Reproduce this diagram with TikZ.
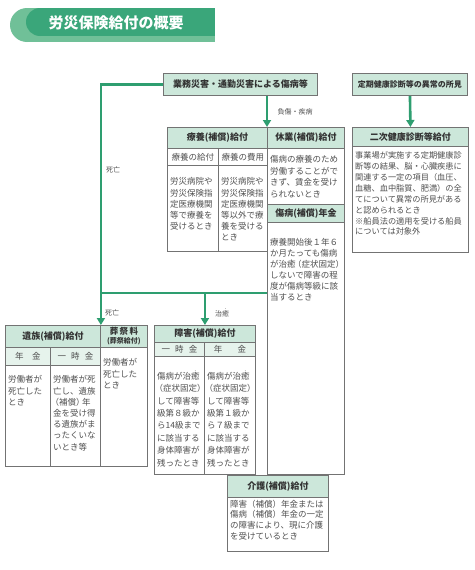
\documentclass[tikz,border=0pt]{standalone}
\usepackage{fontspec}
\setmainfont{Noto Sans CJK JP}
\usetikzlibrary{arrows.meta,positioning}
\definecolor{rgreen}{RGB}{46,158,112}
\definecolor{tgreen}{RGB}{58,166,122}
\definecolor{tlight}{RGB}{112,192,152}
\definecolor{mint}{RGB}{204,231,218}
\definecolor{pale}{RGB}{230,243,236}
\definecolor{frame}{RGB}{115,115,115}
\definecolor{ink}{RGB}{80,80,80}
% small dot above a character
\newcommand{\bouten}[1]{\leavevmode\rlap{\makebox[1em]{\raisebox{0.8em}{\fontsize{4}{4}\selectfont ・}}}#1}
\newcommand{\lp}{\kern-.3em（}
\newcommand{\rp}{）\kern-.3em}

\begin{document}
\begin{tikzpicture}[x=1pt,y=-1pt,
  flow/.style={draw=rgreen,line width=2.6pt,-{Triangle[width=8pt,length=7pt]}},
  hd/.style={draw=frame,line width=0.9pt,fill=mint,anchor=north west,inner sep=0pt,
    font=\fontsize{9}{10}\selectfont\bfseries,text=black!80},
  subhd/.style={hd,fill=pale,font=\fontsize{8.5}{10}\selectfont,text=ink},
  bx/.style={draw=frame,line width=0.9pt,fill=white,anchor=north west,inner sep=0pt},
  txt/.style={align=left,inner xsep=3pt,inner ysep=0pt,font=\fontsize{8.5}{11.2}\selectfont,text=ink},
  lbl/.style={font=\fontsize{7}{8}\selectfont,text=ink,inner sep=1pt}]
\fill[white] (0,0) rectangle (474,570);
\useasboundingbox (0,0) rectangle (474,570);

% Title banner
\fill[tlight] (27,8) rectangle (215,42);
\fill[tlight] (27,25) circle[radius=17pt];
\fill[tgreen] (40,8) rectangle (215,36);
\fill[tgreen] (40,22) circle[radius=14pt];
\node[font=\fontsize{15}{16}\selectfont\bfseries,text=white] (title) at (116,23) {労災保険給付の概要};

% Causes
\node[hd,minimum width=154pt,minimum height=22pt] (cause) at (163,73) {業務災害・通勤災害による傷病等};
\node[hd,minimum width=115pt,minimum height=22pt,font=\fontsize{8}{9}\selectfont\bfseries] (checkup) at (352,73) {定期健康診断等の異常の所見};

% Ryoyo
\node[hd,minimum width=100pt,minimum height=21pt] (ryoH) at (167,127) {療養(補償)給付};
\node[subhd,fill=white,minimum width=51pt,minimum height=17pt] (ryoS1) at (167,148) {療養の給付};
\node[subhd,fill=white,minimum width=49pt,minimum height=17pt] (ryoS2) at (218,148) {療養の費用};
\node[bx,minimum width=51pt,minimum height=86pt] (ryoC1) at (167,165) {};
\node[bx,minimum width=49pt,minimum height=86pt] (ryoC2) at (218,165) {};
\node[txt,below right=12.5pt and 0pt of ryoC1.north west] (ryoT1) {労災病院や\\労災保険指\\定医療機関\\等で療養を\\受けるとき};
\node[txt,below right=12.5pt and 0pt of ryoC2.north west] (ryoT2) {労災病院や\\労災保険指\\定医療機関\\等以外で療\\養を受ける\\とき};

% Kyugyo and Shobyo
\node[hd,minimum width=77pt,minimum height=21pt] (kyuH) at (267,127) {休業(補償)給付};
\node[bx,minimum width=77pt,minimum height=56pt] (kyuC) at (267,148) {};
\node[txt,below right=7.5pt and 0pt of kyuC.north west,font=\fontsize{8.5}{11.5}\selectfont] (kyuT) {傷病の療養のため\\労働することがで\\きず、賃金を受け\\られないとき};
\node[hd,minimum width=77pt,minimum height=18pt] (shoH) at (267,204) {傷病(補償)年金};
\node[bx,minimum width=77pt,minimum height=252pt] (shoC) at (267,222) {};
\node[txt,below right=16.5pt and 0pt of shoC.north west,font=\fontsize{8.5}{11}\selectfont] (shoT) {療養開始後１年６\\か月たっても傷病\\が治\bouten{癒}\lp 症状固定\rp\\しないで障害の程\\度が傷病等級に該\\当するとき};

% Niji kenko shindan
\node[hd,minimum width=116pt,minimum height=19pt] (nijiH) at (352,127) {二次健康診断等給付};
\node[bx,minimum width=116pt,minimum height=106pt] (nijiC) at (352,146) {};
\node[txt,below right=5.5pt and 0pt of nijiC.north west,font=\fontsize{8.2}{10.9}\selectfont] (nijiT) {事業場が実施する定期健康診\\断等の結果、脳・心臓疾患に\\関連する一定の項目（血圧、\\血糖、血中脂質、肥満）の全\\てについて異常の所見がある\\と認められるとき\\※船員法の適用を受ける船員\\については対象外};

% Izoku and Sosai
\node[hd,minimum width=95pt,minimum height=22pt] (izokuH) at (5,325) {遺族(補償)給付};
\node[hd,minimum width=47pt,minimum height=22pt,align=center,font=\fontsize{8.5}{9}\selectfont\bfseries] (sosaiH) at (100,325) {葬\,祭\,料\\{\fontsize{7}{8}\selectfont (葬祭給付)}};
\node[subhd,minimum width=45pt,minimum height=18pt] (izokuS1) at (5,347) {年\hspace{1em}金};
\node[subhd,minimum width=50pt,minimum height=18pt] (izokuS2) at (50,347) {一\hspace{.6em}時\hspace{.6em}金};
\node[bx,minimum width=45pt,minimum height=101pt] (izokuC1) at (5,365) {};
\node[bx,minimum width=50pt,minimum height=101pt] (izokuC2) at (50,365) {};
\node[bx,minimum width=47pt,minimum height=119pt] (sosaiC) at (100,347) {};
\node[txt,below right=10.5pt and 0pt of izokuC1.north west] (izokuT1) {労働者が\\死亡した\\とき};
\node[txt,below right=10.5pt and 0pt of izokuC2.north west] (izokuT2) {労働者が死\\亡し、遺族\\\lp 補償\rp 年\\金を受け得\\る遺族がま\\ったくいな\\いとき等};
\node[txt,below right=11.5pt and 0pt of sosaiC.north west] (sosaiT) {労働者が\\死亡した\\とき};

% Shogai
\node[hd,minimum width=101pt,minimum height=17pt] (shogaiH) at (154,325) {障害(補償)給付};
\node[subhd,minimum width=50pt,minimum height=14pt] (shogaiS1) at (154,342) {一\hspace{.6em}時\hspace{.6em}金};
\node[subhd,minimum width=51pt,minimum height=14pt] (shogaiS2) at (204,342) {年\hspace{1.8em}金};
\node[bx,minimum width=50pt,minimum height=118pt] (shogaiC1) at (154,356) {};
\node[bx,minimum width=51pt,minimum height=118pt] (shogaiC2) at (204,356) {};
\node[txt,below right=14.4pt and 0pt of shogaiC1.north west,font=\fontsize{8.5}{12.4}\selectfont] (shogaiT1) {傷病が治\bouten{癒}\\\lp 症状固定\rp\\して障害等\\級第８級か\\ら14級まで\\に該当する\\身体障害が\\残ったとき};
\node[txt,below right=14.4pt and 0pt of shogaiC2.north west,font=\fontsize{8.5}{12.4}\selectfont] (shogaiT2) {傷病が治\bouten{癒}\\\lp 症状固定\rp\\して障害等\\級第１級か\\ら７級まで\\に該当する\\身体障害が\\残ったとき};

% Kaigo
\node[hd,minimum width=101pt,minimum height=22pt] (kaigoH) at (227,475) {介護(補償)給付};
\node[bx,minimum width=101pt,minimum height=54pt] (kaigoC) at (227,497) {};
\node[txt,below right=2.7pt and 0pt of kaigoC.north west,font=\fontsize{8.5}{10.8}\selectfont] (kaigoT) {障害（補償）年金または\\傷病（補償）年金の一定\\の障害により、現に介護\\を受けているとき};

% Connectors
\draw[flow] (cause.west) -| (izokuH.north east);
\coordinate (split) at (izokuH.north east |- 0,293);
\draw[flow,-] (split) -- (split -| shoC.west);
\draw[flow] (split -| shogaiH.north) -- (shogaiH.north);
\draw[flow] (cause.south -| kyuH.north west) -- (kyuH.north west);
\draw[flow] (checkup.south) -- (nijiH.north);

% Labels
\node[lbl] (lbInjury) at (295,112) {負傷・疾病};
\node[lbl] (lbDeath1) at (113,170) {死亡};
\node[lbl] (lbDeath2) at (112,313) {死亡};
\node[lbl] (lbCure) at (222,313) {治\bouten{癒}};
\end{tikzpicture}
\end{document}
